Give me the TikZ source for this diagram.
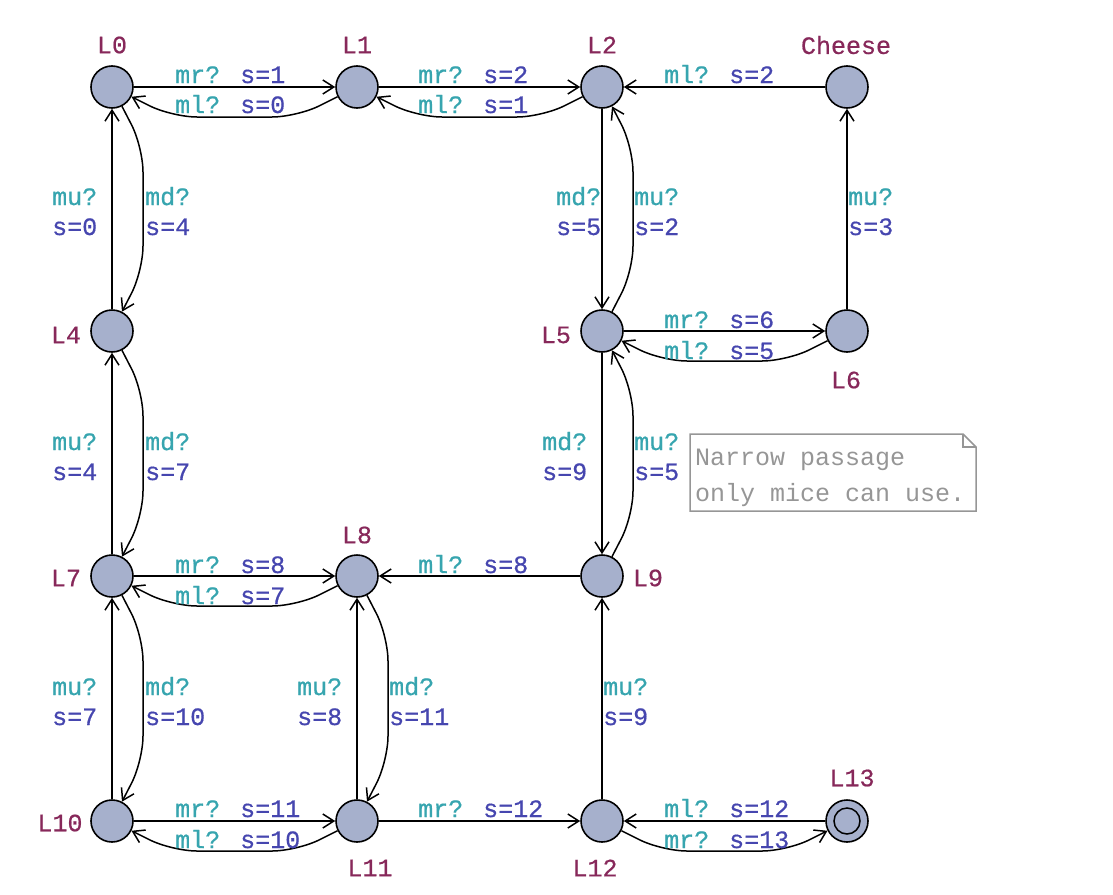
\documentclass[tikz,border=0pt]{standalone}
\usepackage{fontspec}
\setmainfont{Liberation Mono}[BoldFont={Liberation Mono},BoldFeatures={FakeBold=0.6}]
\usetikzlibrary{arrows.meta}
\definecolor{locfill}{RGB}{166,176,204}
\definecolor{locname}{RGB}{135,40,90}
\definecolor{syncc}{RGB}{55,165,175}
\definecolor{updc}{RGB}{70,70,175}
\definecolor{notegray}{RGB}{150,150,150}
\newcommand\hlab[5]{\node[lbl] (#1) at (#2,#3) {\textcolor{syncc}{#4} \textcolor{updc}{#5}};}
\newcommand\vlab[5]{\node[lbl] (#1a) at (#2,#3) {\textcolor{syncc}{#4}};
  \node[lbl] (#1b) at (#2,#3+30) {\textcolor{updc}{#5}};}
\begin{document}
\begin{tikzpicture}[x=1pt,y=-1pt,
  every node/.style={font=\fontsize{25}{30}\selectfont\bfseries},
  loc/.style={circle,draw,line width=1.6pt,fill=locfill,minimum size=42pt,inner sep=0pt},
  lname/.style={text=locname,inner sep=0pt,anchor=center},
  lbl/.style={inner sep=0pt,anchor=base west},
  notetxt/.style={lbl,text=notegray,font=\fontsize{25}{30}\selectfont\mdseries},
  edge/.style={line width=1.5pt,-{Straight Barb[length=11pt,width=14pt,line width=1.5pt]}},
  curv/.style={edge,rounded corners=25pt}]
\useasboundingbox (0,0) rectangle (1113,894);
% locations
\node[loc] (L0) at (112,87) {};
\node[loc] (L1) at (357,87) {};
\node[loc] (L2) at (602,87) {};
\node[loc] (Ch) at (847,87) {};
\node[loc] (L4) at (112,331) {};
\node[loc] (L5) at (602,331) {};
\node[loc] (L6) at (847,331) {};
\node[loc] (L7) at (112,576) {};
\node[loc] (L8) at (357,576) {};
\node[loc] (L9) at (602,576) {};
\node[loc] (L10) at (112,821) {};
\node[loc] (L11) at (357,821) {};
\node[loc] (L12) at (602,821) {};
\node[loc,path picture={\draw[line width=1.5pt] (path picture bounding box.center) circle[radius=13pt];}] (L13) at (847,821) {};
% names
\node[lname] (nL0) at (112,45) {L0};
\node[lname] (nL1) at (357,45) {L1};
\node[lname] (nL2) at (602,45) {L2};
\node[lname] (nCh) at (846,45) {Cheese};
\node[lname] (nL4) at (66,335) {L4};
\node[lname] (nL5) at (556,335) {L5};
\node[lname] (nL6) at (846,380) {L6};
\node[lname] (nL7) at (66,578) {L7};
\node[lname] (nL8) at (357,535) {L8};
\node[lname] (nL9) at (648,578) {L9};
\node[lname] (nL10) at (60,823) {L10};
\node[lname] (nL11) at (370,868) {L11};
\node[lname] (nL12) at (595,868) {L12};
\node[lname] (nL13) at (852,778) {L13};
% straight edges
\draw[edge] (L0) -- (L1);
\draw[edge] (L1) -- (L2);
\draw[edge] (Ch) -- (L2);
\draw[edge] (L4) -- (L0);
\draw[edge] (L2) -- (L5);
\draw[edge] (L6) -- (Ch);
\draw[edge] (L5) -- (L6);
\draw[edge] (L7) -- (L4);
\draw[edge] (L5) -- (L9);
\draw[edge] (L7) -- (L8);
\draw[edge] (L9) -- (L8);
\draw[edge] (L10) -- (L7);
\draw[edge] (L11) -- (L8);
\draw[edge] (L12) -- (L9);
\draw[edge] (L10) -- (L11);
\draw[edge] (L11) -- (L12);
\draw[edge] (L13) -- (L12);
% curved edges
\draw[curv] (L1) -- (297,117) -- (172,117) -- (L0);
\draw[curv] (L2) -- (542,117) -- (417,117) -- (L1);
\draw[curv] (L6) -- (787,361) -- (662,361) -- (L5);
\draw[curv] (L8) -- (297,606) -- (172,606) -- (L7);
\draw[curv] (L11) -- (297,851) -- (172,851) -- (L10);
\draw[curv] (L12) -- (662,851) -- (787,851) -- (L13);
\draw[curv] (L0) -- (143,147) -- (143,271) -- (L4);
\draw[curv] (L4) -- (143,391) -- (143,516) -- (L7);
\draw[curv] (L7) -- (143,636) -- (143,761) -- (L10);
\draw[curv] (L5) -- (633,271) -- (633,147) -- (L2);
\draw[curv] (L9) -- (633,516) -- (633,391) -- (L5);
\draw[curv] (L8) -- (388,636) -- (388,761) -- (L11);
% horizontal labels
\hlab{e1}{175}{83}{mr?}{s=1}
\hlab{e2}{175}{113}{ml?}{s=0}
\hlab{e3}{418}{83}{mr?}{s=2}
\hlab{e4}{418}{113}{ml?}{s=1}
\hlab{e5}{664}{83}{ml?}{s=2}
\hlab{e6}{664}{328}{mr?}{s=6}
\hlab{e7}{664}{359}{ml?}{s=5}
\hlab{e8}{175}{573}{mr?}{s=8}
\hlab{e9}{175}{604}{ml?}{s=7}
\hlab{e10}{418}{573}{ml?}{s=8}
\hlab{e11}{175}{817}{mr?}{s=11}
\hlab{e12}{175}{848}{ml?}{s=10}
\hlab{e13}{418}{817}{mr?}{s=12}
\hlab{e14}{664}{817}{ml?}{s=12}
\hlab{e15}{664}{848}{mr?}{s=13}
% vertical labels
\vlab{v1}{52}{205}{mu?}{s=0}
\vlab{v2}{145}{205}{md?}{s=4}
\vlab{v3}{556}{205}{md?}{s=5}
\vlab{v4}{634}{205}{mu?}{s=2}
\vlab{v5}{848}{205}{mu?}{s=3}
\vlab{v6}{52}{450}{mu?}{s=4}
\vlab{v7}{145}{450}{md?}{s=7}
\vlab{v8}{542}{450}{md?}{s=9}
\vlab{v9}{634}{450}{mu?}{s=5}
\vlab{v10}{52}{695}{mu?}{s=7}
\vlab{v11}{145}{695}{md?}{s=10}
\vlab{v12}{297}{695}{mu?}{s=8}
\vlab{v13}{389}{695}{md?}{s=11}
\vlab{v14}{603}{695}{mu?}{s=9}
% note
\draw[notegray,line width=1.5pt] (690,434) -- (963,434) -- (976,447) -- (976,511) -- (690,511) -- cycle;
\draw[notegray,line width=1.2pt] (963,434) -- (963,447) -- (976,447);
\node[notetxt] (n1) at (695,465) {Narrow passage};
\node[notetxt] (n2) at (695,501) {only mice can use.};
\end{tikzpicture}
\end{document}
